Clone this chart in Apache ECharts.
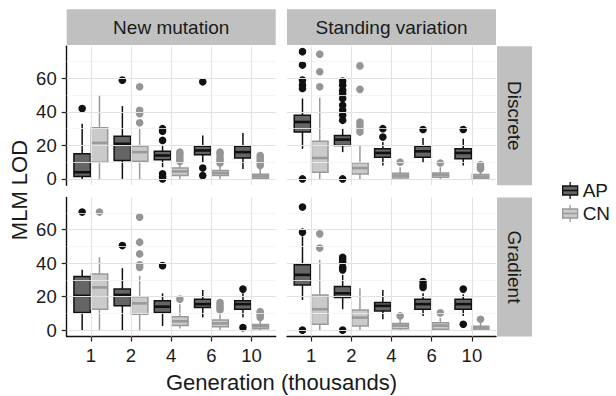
<!DOCTYPE html>
<html><head><meta charset="utf-8">
<script src="https://cdn.jsdelivr.net/npm/echarts@6/dist/echarts.min.js"></script>
<style>html,body{margin:0;padding:0;background:#fff}#c{width:616px;height:396px}</style>
</head><body><div id="c"></div>
<script>
// ---------- data ----------
const categories = ['1', '2', '4', '6', '10'];
const columns = ['New mutation', 'Standing variation'];
const rows = ['Discrete', 'Gradient'];
const groups = ['AP', 'CN'];
const yTicks = [0, 20, 40, 60];
const yMinor = [10, 30, 50, 70];

// box stats per category: [lower whisker, Q1, median, Q3, upper whisker]
const nmDiscreteAP = [[0,1.5,4,15,33],[0,11,21,25.5,43.5],[7,11.5,14,16.5,20],[10,14.5,17,19.5,26],[6,12.5,16,19.5,27.5]];
const nmDiscreteCN = [[0,10,21.5,30.5,50],[0,10.5,16,19.5,30],[0,2,4.5,6.5,9.5],[0,2,3.5,5,8],[0,0.2,1.5,2.8,6]];
const svDiscreteAP = [[18,28,34,38,48],[16,20,23.5,26,30],[8,13,15.5,18,22],[9.5,13,16.5,19.5,24.5],[8,12,15.5,18,24]];
const svDiscreteCN = [[0,4,12.5,22.5,48.5],[0,3,6.5,9.5,20],[0,0.6,2,3.4,7],[0,1,2.5,3.6,7],[0,0.3,1.4,2.6,5]];
const nmGradientAP = [[0,10.5,20.5,32,36],[0,14.5,21,24.5,37],[2.5,10.5,14,17.5,22],[7.5,13.5,15.5,18.5,24],[7.5,12.5,15.5,17.5,22]];
const nmGradientCN = [[0,12.5,25.5,33.5,43.5],[0,9.5,16,20,32.5],[1,2.7,5.3,8,15.5],[0,2,4,6,9.5],[0,0.8,2.3,3.3,6]];
const svGradientAP = [[18,27,33,39,56],[12.5,19.5,22,26,33],[6.5,11.5,14.5,16.5,24],[8.5,12.5,15.5,18.5,22],[8.5,12.5,15.5,18.5,21.5]];
const svGradientCN = [[0,3.5,12.5,21,42],[0,2.5,7.5,12,25],[0,0.8,2.7,4,6.5],[0,0.5,2.7,4.4,7.3],[0,0.1,1.4,2.3,4.5]];

// outliers per category
const nmDiscreteAPOut = [[42],[59],[30,28.5,23,3,1.5,0],[58,6.5,2],[]];
const nmDiscreteCNOut = [[],[55,41,39,33.5],[10.5,12,13.5,15,16],[9.5,11,12.5,14.5,16],[8,9.5,11,12.5,14]];
const svDiscreteAPOut = [[76,68,59,56,54,0],[58.5,56,53,51,48,44,41,38,35,0],[30,25],[29.5],[29.5]];
const svDiscreteCNOut = [[74.5,64,55],[67.5,53.5,34,32,30,28],[10],[9.5],[6,7,8.5]];
const nmGradientAPOut = [[70.5],[50.5],[38.5],[],[24.5,1.5]];
const nmGradientCNOut = [[70.5],[67.5,52.5,45.5,39,37.5],[18.5],[12,13.5,15,16.5],[7.5,9,10,11]];
const svGradientAPOut = [[73.5,58.5,0],[43.5,42,40.5,37.5,36,0],[],[29,27,25.5],[24.5,3.5]];
const svGradientCNOut = [[57.5,49],[],[8.5],[10.3],[6.5]];

// ---------- layout / style ----------
const FONT = '"Liberation Sans", Arial, Helvetica, sans-serif';
const PX = [66.7, 287], PY = [46.3, 197.5], PW = 209, PH = 139;
const X_MIN = 0.4, X_MAX = 5.6, Y_MIN = -3.8, Y_MAX = 79.2;
const STRIP = '#c0c0c0';
const TXT = '#1a1a1a';
const STYLE = {
  AP: { fill: '#656565', stroke: '#111111', point: '#111111' },
  CN: { fill: '#cacaca', stroke: '#999999', point: '#959595' }
};
const DODGE = 0.215, HALF = 0.205;

const panels = [
  { row: 0, col: 0, AP: nmDiscreteAP, CN: nmDiscreteCN, APo: nmDiscreteAPOut, CNo: nmDiscreteCNOut },
  { row: 0, col: 1, AP: svDiscreteAP, CN: svDiscreteCN, APo: svDiscreteAPOut, CNo: svDiscreteCNOut },
  { row: 1, col: 0, AP: nmGradientAP, CN: nmGradientCN, APo: nmGradientAPOut, CNo: nmGradientCNOut },
  { row: 1, col: 1, AP: svGradientAP, CN: svGradientCN, APo: svGradientAPOut, CNo: svGradientCNOut }
];

const grid = [], xAxis = [], yAxis = [], series = [];

function boxSeries(p, g, stats) {
  const st = STYLE[g];
  const sign = g === 'AP' ? -1 : 1;
  return {
    type: 'custom', name: g, xAxisIndex: p, yAxisIndex: p, z: 3,
    itemStyle: { color: st.fill, borderColor: st.stroke },
    data: stats.map((s, i) => [i + 1].concat(s)),
    encode: { x: 0, y: [1, 2, 3, 4, 5] },
    renderItem: function (params, api) {
      const x = api.value(0);
      const band = api.size([1, 0])[0];
      const cx = api.coord([x, 0])[0] + sign * band * DODGE;
      const hw = band * HALF;
      const py = k => api.coord([x, api.value(k)])[1];
      const yMin = py(1), yQ1 = py(2), yMed = py(3), yQ3 = py(4), yMax = py(5);
      const ls = { stroke: st.stroke, lineWidth: 1.5 };
      return {
        type: 'group',
        children: [
          { type: 'line', shape: { x1: cx, y1: yMax, x2: cx, y2: yQ3 }, style: ls },
          { type: 'line', shape: { x1: cx, y1: yQ1, x2: cx, y2: yMin }, style: ls },
          { type: 'rect', shape: { x: cx - hw, y: yQ3, width: 2 * hw, height: yQ1 - yQ3 },
            style: { fill: st.fill, stroke: st.stroke, lineWidth: 1.5 } },
          { type: 'line', shape: { x1: cx - hw, y1: yMed, x2: cx + hw, y2: yMed },
            style: { stroke: st.stroke, lineWidth: 2.6 } }
        ]
      };
    }
  };
}

function outlierSeries(p, g, outs) {
  const st = STYLE[g];
  const sign = g === 'AP' ? -1 : 1;
  const data = [];
  outs.forEach((arr, i) => arr.forEach(v => data.push([i + 1, v])));
  return {
    type: 'custom', name: g + ' outliers', xAxisIndex: p, yAxisIndex: p, z: 4,
    data: data,
    encode: { x: 0, y: 1 },
    renderItem: function (params, api) {
      const band = api.size([1, 0])[0];
      const pt = api.coord([api.value(0), api.value(1)]);
      return { type: 'circle', shape: { cx: pt[0] + sign * band * DODGE, cy: pt[1], r: 3.8 },
               style: { fill: st.point } };
    }
  };
}

panels.forEach((pn, p) => {
  grid.push({ left: PX[pn.col], top: PY[pn.row], width: PW, height: PH });
  const bottom = pn.row === 1, left = pn.col === 0;
  xAxis.push({
    gridIndex: p, type: 'value', min: X_MIN, max: X_MAX,
    axisLine: { show: bottom, onZero: false, lineStyle: { color: '#111', width: 1.4 } },
    axisTick: { show: bottom, customValues: [1, 2, 3, 4, 5], length: 5, lineStyle: { color: '#222', width: 1.2 } },
    axisLabel: { show: bottom, customValues: [1, 2, 3, 4, 5], margin: 9,
      formatter: v => categories[Math.round(v) - 1],
      fontSize: 18.5, color: TXT, fontFamily: FONT },
    splitLine: { show: false }
  });
  yAxis.push({
    gridIndex: p, type: 'value', min: Y_MIN, max: Y_MAX,
    axisLine: { show: left, onZero: false, lineStyle: { color: '#111', width: 1.4 } },
    axisTick: { show: left, customValues: yTicks, length: 5, lineStyle: { color: '#222', width: 1.2 } },
    axisLabel: { show: left, customValues: yTicks, margin: 10,
      fontSize: 18.5, color: TXT, fontFamily: FONT },
    splitLine: { show: false }
  });
  const ml = [];
  yMinor.forEach(v => ml.push({ yAxis: v, lineStyle: { color: '#f2f2f2', width: 0.8, type: 'solid' } }));
  yTicks.forEach(v => ml.push({ yAxis: v, lineStyle: { color: '#e2e2e2', width: 1, type: 'solid' } }));
  categories.forEach((c, i) => ml.push({ xAxis: i + 1, lineStyle: { color: '#e2e2e2', width: 1, type: 'solid' } }));
  series.push({
    type: 'line', name: 'grid' + p, xAxisIndex: p, yAxisIndex: p, data: [], silent: true, z: 0,
    markLine: { silent: true, symbol: ['none', 'none'], label: { show: false }, animation: false, data: ml }
  });
  series.push(boxSeries(p, 'AP', pn.AP));
  series.push(boxSeries(p, 'CN', pn.CN));
  series.push(outlierSeries(p, 'AP', pn.APo));
  series.push(outlierSeries(p, 'CN', pn.CNo));
});

const ICON = 'path://M7.5,0L7.5,4M0,4L15,4L15,13L0,13ZM0,8.5L15,8.5M7.5,13L7.5,17';

const graphic = [];
columns.forEach((c, i) => {
  graphic.push({ type: 'rect', silent: true, shape: { x: PX[i], y: 9.3, width: PW, height: 35.7 }, style: { fill: STRIP } });
  graphic.push({ type: 'text', silent: true, x: PX[i] + PW / 2, y: 27.5,
    style: { text: c, fontSize: 19, fontFamily: FONT, fill: TXT, align: 'center', verticalAlign: 'middle' } });
});
rows.forEach((r, i) => {
  graphic.push({ type: 'rect', silent: true, shape: { x: 497, y: PY[i], width: 35, height: PH }, style: { fill: STRIP } });
  graphic.push({ type: 'text', silent: true, x: 514.5, y: PY[i] + PH / 2, rotation: -Math.PI / 2,
    style: { text: r, fontSize: 19, fontFamily: FONT, fill: TXT, align: 'center', verticalAlign: 'middle' } });
});
graphic.push({ type: 'text', silent: true, x: 281.5, y: 382,
  style: { text: 'Generation (thousands)', fontSize: 22, fontFamily: FONT, fill: TXT, align: 'center', verticalAlign: 'middle' } });
graphic.push({ type: 'text', silent: true, x: 19, y: 190, rotation: Math.PI / 2,
  style: { text: 'MLM LOD', fontSize: 22, fontFamily: FONT, fill: TXT, align: 'center', verticalAlign: 'middle' } });

const chart = echarts.init(document.getElementById('c'), null, { renderer: 'svg', width: 616, height: 396 });
chart.setOption({
  animation: false,
  backgroundColor: '#ffffff',
  grid: grid, xAxis: xAxis, yAxis: yAxis, series: series,
  graphic: graphic,
  legend: {
    data: groups.map(g => ({ name: g, icon: ICON,
      itemStyle: { color: STYLE[g].fill, borderColor: STYLE[g].stroke, borderWidth: 1.3 } })),
    orient: 'vertical', left: 562, top: 181, padding: 0,
    itemWidth: 15, itemHeight: 17, itemGap: 4, selectedMode: false,
    textStyle: { fontSize: 19, color: TXT, fontFamily: FONT }
  }
});
</script>
</body></html>
